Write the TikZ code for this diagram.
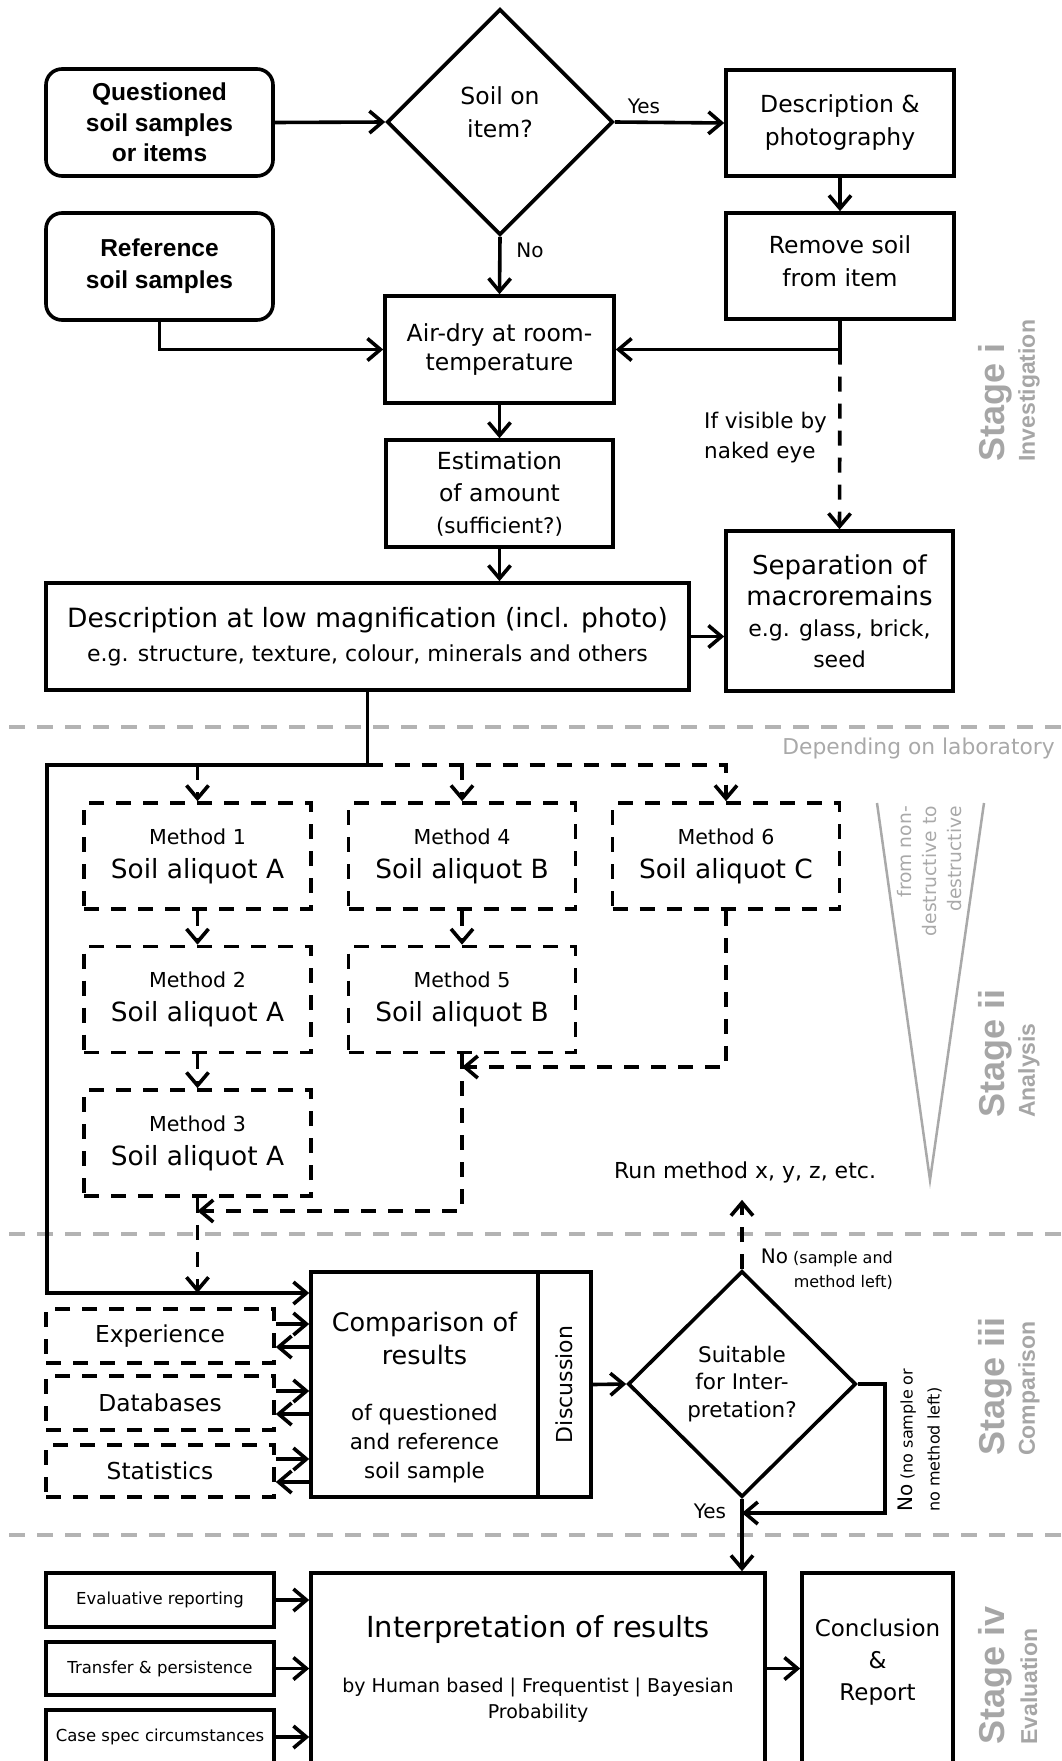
\documentclass[tikz,border=0pt]{standalone}
\usepackage{fontspec}
\usepackage{graphicx}
\setmainfont{DejaVu Sans}
\newfontfamily\hel{Liberation Sans}
\usetikzlibrary{arrows.meta,shapes.geometric,calc}
\newcommand\fsz[2]{\fontsize{#1}{#2}\selectfont}
\definecolor{stagegray}{HTML}{A6A6A6}
\definecolor{linegray}{HTML}{B3B3B3}
\definecolor{trigray}{HTML}{A9A9A9}
\begin{document}
\begin{tikzpicture}[x=1pt,y=-1pt,
  lw/.style={line width=3.6pt},
  box/.style={draw,lw,rectangle,inner sep=0pt,align=center,anchor=center},
  rbox/.style={box,rounded corners=16pt},
  dbox/.style={box,dash pattern=on 15pt off 12pt},
  dia/.style={draw,lw,diamond,inner sep=0pt,align=center},
  arr/.style={lw,-{Straight Barb[length=13pt,width=22pt]}},
  darr/.style={arr,dash pattern=on 15pt off 12pt},
  gline/.style={draw=linegray,line width=3.3pt,dash pattern=on 16pt off 12pt},
  gtext/.style={text=trigray,inner sep=0pt},
  stg/.style={text=stagegray,inner sep=0pt,font=\hel\bfseries\fsz{36}{40}},
  stgs/.style={text=stagegray,inner sep=0pt,font=\hel\bfseries\fsz{23}{26}},
  meth/.style={dbox,minimum width=227pt,minimum height=106pt,font=\fsz{20.6}{34}},
  side/.style={dbox,minimum width=228pt,minimum height=54pt,font=\fsz{23.3}{28}},
  fact/.style={box,minimum width=228pt,minimum height=54pt,font=\fsz{16.5}{20}},
  lab/.style={inner sep=0pt}
]
\useasboundingbox (0,0) rectangle (1061,1761);

% stage dividers
\draw[gline] (9,727) -- (1061,727);
\draw[gline] (9,1234) -- (1061,1234);
\draw[gline] (9,1535) -- (1061,1535);

% Stage i
\node[box,rbox,minimum width=227pt,minimum height=107pt,font=\hel\bfseries\fsz{24.5}{30.5}] (q) at (159.5,122.5) {Questioned\\soil samples\\or items};
\node[box,rbox,minimum width=227pt,minimum height=107pt,font=\hel\bfseries\fsz{24.5}{32}] (r) at (159.5,266.5) {Reference\\soil samples};
\node[dia,minimum width=226pt,minimum height=226pt,font=\fsz{23.5}{33}] (d1) at (500,122) {Soil on\\item?\rule[-20pt]{0pt}{20pt}};
\node[box,minimum width=228pt,minimum height=106pt,font=\fsz{23.5}{33}] (dp) at (840,123) {Description \&\\photography};
\node[box,minimum width=228pt,minimum height=106pt,font=\fsz{23.5}{33}] (rs) at (840,266) {Remove soil\\from item\rule[-10pt]{0pt}{10pt}};
\node[box,minimum width=229pt,minimum height=107pt,font=\fsz{23.5}{29}] (ad) at (499.5,349.5) {Air-dry at room-\\temperature};
\node[box,minimum width=227pt,minimum height=107pt,font=\fsz{23.5}{32}] (est) at (499.5,493.5) {Estimation\\of amount\\{\fsz{21.5}{32}(sufficient?)}};
\node[box,minimum width=643pt,minimum height=107pt,font=\fsz{22}{34}] (dl) at (367.5,636.5) {{\fsz{26.5}{34}Description at low magnification (incl. photo)}\\e.g. structure, texture, colour, minerals and others};
\node[box,minimum width=227pt,minimum height=160pt,font=\fsz{22}{31}] (sep) at (839.5,611) {{\fsz{26}{31}Separation of}\\{\fsz{26}{31}macroremains}\\e.g. glass, brick,\\seed};

\node[lab,font=\fsz{20}{24}] (lyes1) at (644,106) {Yes};
\node[lab,font=\fsz{20}{24}] (lno1) at (530,250) {No};
\node[lab,font=\fsz{21.5}{30},align=left,anchor=west] (lvis) at (704,438) {If visible by\\naked eye};

\draw[arr] (q.east) -- (d1.west);
\draw[arr] (d1.east) -- (dp.west);
\draw[arr] (d1.south) -- (ad.north);
\draw[arr] (dp.south) -- (rs.north);
\draw[arr] (r.south) |- (ad.west);
\draw[arr] (rs.south) |- (ad.east);
\draw[darr] (rs.south |- ad.east) -- (sep.north);
\draw[arr] (ad.south) -- (est.north);
\draw[arr] (est.south) -- (est.south |- dl.north);
\draw[arr] (dl.east) -- (dl.east -| sep.west);

\node[stg,rotate=90,anchor=west] (s1) at (995,462) {Stage i};
\node[stgs,rotate=90,anchor=west] (s1b) at (1029,462) {Investigation};

% Stage ii
\node[gtext,font=\fsz{21.8}{26},anchor=east] (dep) at (1055,748) {Depending on laboratory};
\node[meth] (m1) at (197.5,856) {Method 1\\{\fsz{26.4}{34}Soil aliquot A}};
\node[meth] (m2) at (197.5,999.5) {Method 2\\{\fsz{26.4}{34}Soil aliquot A}};
\node[meth] (m3) at (197.5,1143) {Method 3\\{\fsz{26.4}{34}Soil aliquot A}};
\node[meth] (m4) at (462,856) {Method 4\\{\fsz{26.4}{34}Soil aliquot B}};
\node[meth] (m5) at (462,999.5) {Method 5\\{\fsz{26.4}{34}Soil aliquot B}};
\node[meth] (m6) at (726,856) {Method 6\\{\fsz{26.4}{34}Soil aliquot C}};

\coordinate (sp) at (367.5,765);
\coordinate (lft) at (47,765);
\coordinate (cin) at (47,1293);
\coordinate (j6) at (462,1067);
\coordinate (j5) at (197.5,1211);

\draw[darr] (sp) -| (m6.north);
\draw[darr] (sp -| m4.north) -- (m4.north);
\draw[darr] (sp -| m1.north) -- (m1.north);
\draw[darr] (m1.south) -- (m2.north);
\draw[darr] (m2.south) -- (m3.north);
\draw[darr] (m4.south) -- (m5.north);
\draw[darr] (m6.south) |- (j6);
\draw[darr] (m5.south) |- (j5);
\draw[darr] (m3.south) -- (m3.south |- cin);

\draw[trigray,line width=2.5pt] (877,803) -- (930,1180) -- (984,803);
\node[gtext,font=\fsz{18.7}{25},align=right,rotate=90,anchor=east] (tt) at (930,806) {from non-\\destructive to\\destructive};

\node[lab,font=\fsz{22}{26},inner sep=3pt] (run) at (745,1172) {Run method x, y, z, etc.};

\node[stg,rotate=90,anchor=west] (s2) at (995,1118) {Stage ii};
\node[stgs,rotate=90,anchor=west] (s2b) at (1029,1118) {Analysis};

% Stage iii
\node[box,minimum width=227pt,minimum height=225pt,font=\fsz{21.4}{29}] (cmp) at (424.5,1384.5) {{\fsz{25.5}{33}\rule{0pt}{46pt}Comparison of}\\[4pt]{\fsz{25.5}{33}results}\\[27pt]of questioned\\and reference\\soil sample};
\node[box,minimum width=53pt,minimum height=225pt,font=\fsz{22}{26}] (disc) at (564.5,1384.5) {\rotatebox{90}{Discussion}};
\node[dia,minimum width=228pt,minimum height=226pt,font=\fsz{21.5}{27.5}] (d2) at (742,1384) {Suitable\\for Inter-\\pretation?};
\node[side] (exp) at (160,1336) {Experience};
\node[side] (db) at (160,1403) {Databases};
\node[side,minimum height=52pt] (st) at (160,1471) {Statistics};

\draw[arr] (dl.south) -- (sp) -- (lft) -- (cin) -- (cin -| cmp.west);
\foreach \n in {exp,db,st}{
  \draw[arr] ($(\n.east)+(0,-12)$) -- ($(\n.east -| cmp.west)+(0,-12)$);
  \draw[arr] ($(\n.east -| cmp.west)+(0,11)$) -- ($(\n.east)+(0,11)$);
}
\draw[arr] (disc.east) -- (d2.west);
\draw[darr,shorten >=14pt] (d2.north) -- (d2.north |- run.south);
\node[lab,font=\fsz{16}{24},align=right,anchor=east] (lno2) at (893,1269) {{\fsz{20}{24}No} (sample and\\method left)};

\coordinate (j2) at (885,1384);
\coordinate (j3) at (742,1513);
\draw[arr] (d2.east) -- (j2) |- (j3);
\node[lab,font=\fsz{16}{27},align=left,rotate=90,anchor=west] (lno3) at (920,1512) {{\fsz{20}{27}No} (no sample or\\no method left)};
\node[lab,font=\fsz{20}{24}] (lyes2) at (710,1511) {Yes};

\node[stg,rotate=90,anchor=west] (s3) at (995,1456) {Stage iii};
\node[stgs,rotate=90,anchor=west] (s3b) at (1029,1456) {Comparison};

% Stage iv
\node[box,minimum width=454pt,minimum height=191pt,font=\fsz{19}{26}] (int) at (538,1668.5) {{\fsz{29}{33}Interpretation of results}\\[29pt]by Human based | Frequentist | Bayesian\\Probability};
\node[box,minimum width=151pt,minimum height=191pt,font=\fsz{23}{32}] (con) at (877.5,1668.5) {Conclusion\\\&\\Report\rule[-18pt]{0pt}{18pt}};
\node[fact] (ev) at (160,1600) {Evaluative reporting};
\node[fact,minimum height=53pt] (tp) at (160,1668.5) {Transfer \& persistence};
\node[fact] (cs) at (160,1737) {Case spec circumstances};

\draw[arr] (d2.south) -- (d2.south |- int.north);
\foreach \n in {ev,tp,cs}{
  \draw[arr] (\n.east) -- (\n.east -| int.west);
}
\draw[arr] (int.east) -- (con.west);

\node[stg,rotate=90,anchor=west] (s4) at (995,1745) {Stage iv};
\node[stgs,rotate=90,anchor=west] (s4b) at (1029,1745) {Evaluation};
\end{tikzpicture}
\end{document}
